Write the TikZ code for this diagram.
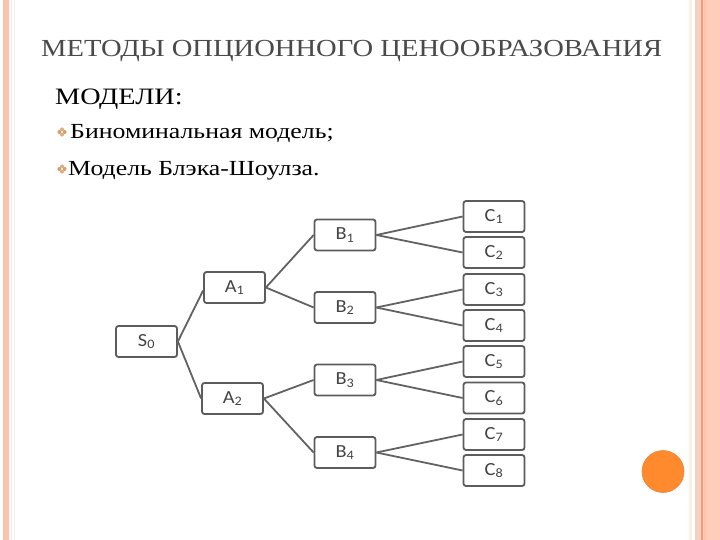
\documentclass[tikz,border=0pt]{standalone}
\usepackage{fontspec}
\setmainfont{Liberation Serif}
\newfontfamily\slidefont{Liberation Serif}[FakeStretch=1.2]
\newfontfamily\titlefont{Liberation Serif}[FakeStretch=1.166]
\newfontfamily\boxfont{Carlito}[FakeStretch=1.1]
\definecolor{salmon}{HTML}{FFC3AA}
\definecolor{salmonB}{HTML}{FFCDB9}
\definecolor{salmonD}{HTML}{EE9C7C}
\definecolor{tanline}{HTML}{EBD2C2}
\definecolor{creamline}{HTML}{FBEEE2}
\definecolor{lavline}{HTML}{ECE6F0}
\definecolor{yelline}{HTML}{F6F1D8}
\definecolor{titlegray}{HTML}{4A4A4A}
\definecolor{boxgray}{HTML}{5C5C5C}
\definecolor{linegray}{HTML}{626262}
\definecolor{txtgray}{HTML}{444444}
\definecolor{dotorange}{HTML}{FF8A2E}
\definecolor{dotedge}{HTML}{E8853A}
\definecolor{petalA}{HTML}{E39A62}
\definecolor{petalB}{HTML}{D8B088}
\begin{document}
\begin{tikzpicture}[x=1pt,y=-1pt,
  box/.style={draw=boxgray, line width=1.8pt, rounded corners=2.5pt, fill=white,
    minimum width=61pt, minimum height=31pt, inner sep=0pt,
    font=\boxfont\fontsize{18.5}{18.5}\selectfont, text=txtgray},
  conn/.style={draw=linegray, line width=1.8pt},
  flower/.pic={
    \fill[petalA] (-2.6,0) circle (2);
    \fill[petalA] (2.6,0) circle (2);
    \fill[petalB] (0,-2.6) circle (2);
    \fill[petalB] (0,2.6) circle (2);
    \fill[white] (0,0) circle (0.9);
  }]
\useasboundingbox (0,0) rectangle (720,540);
% left border stripes
\fill[salmon] (3,0) rectangle (9,540);
\fill[salmonD!60] (3,0) rectangle (3.8,540);
\fill[lavline] (11,0) rectangle (12.3,540);
\fill[yelline] (14,0) rectangle (15.3,540);
% right border stripes
\fill[creamline] (689,0) rectangle (692,540);
\fill[tanline] (695,0) rectangle (697.5,540);
\fill[salmonB] (697.5,0) rectangle (720,540);
\fill[salmonD] (701,0) rectangle (702.5,540);
\fill[salmon] (704,0) rectangle (706,540);
% orange circle
\fill[dotorange, draw=dotedge, line width=0.6pt] (663,471.5) circle (21);
% texts
\node[anchor=base west, inner sep=0pt, text=titlegray, font=\titlefont\fontsize{24.5}{24.5}\selectfont] (title) at (41,57) {МЕТОДЫ ОПЦИОННОГО ЦЕНООБРАЗОВАНИЯ};
\node[anchor=base west, inner sep=0pt, font=\slidefont\fontsize{23.5}{23.5}\selectfont] (models) at (55,105) {МОДЕЛИ:};
\pic at (62,132) {flower};
\node[anchor=base west, inner sep=0pt, font=\slidefont\fontsize{21.5}{21.5}\selectfont] (item1) at (70,139) {Биноминальная модель;};
\pic at (62,169) {flower};
\node[anchor=base west, inner sep=0pt, font=\slidefont\fontsize{21.5}{21.5}\selectfont] (item2) at (68,176) {Модель Блэка-Шоулза.};
% tree nodes
\node[box] (S0) at (146.5,341.5) {S\textsubscript{0}};
\node[box] (A1) at (234.5,287.5) {A\textsubscript{1}};
\node[box] (A2) at (232.5,398.5) {A\textsubscript{2}};
\node[box] (B1) at (345,235) {B\textsubscript{1}};
\node[box] (B2) at (345,307.5) {B\textsubscript{2}};
\node[box] (B3) at (345,380) {B\textsubscript{3}};
\node[box] (B4) at (345,452.5) {B\textsubscript{4}};
\node[box] (C1) at (494,216.5) {C\textsubscript{1}};
\node[box] (C2) at (494,252.5) {C\textsubscript{2}};
\node[box] (C3) at (494,289.5) {C\textsubscript{3}};
\node[box] (C4) at (494,325.5) {C\textsubscript{4}};
\node[box] (C5) at (494,361.5) {C\textsubscript{5}};
\node[box] (C6) at (494,398) {C\textsubscript{6}};
\node[box] (C7) at (494,434.5) {C\textsubscript{7}};
\node[box] (C8) at (494,470.5) {C\textsubscript{8}};
% connectors
\draw[conn] (S0.east) -- ([yshift=-3pt]A1.west);
\draw[conn] (S0.east) -- (A2.west);
\draw[conn] (A1.east) -- (B1.west);
\draw[conn] (A1.east) -- (B2.west);
\draw[conn] (A2.east) -- (B3.west);
\draw[conn] (A2.east) -- (B4.west);
\draw[conn] (B1.east) -- (C1.west);
\draw[conn] (B1.east) -- (C2.west);
\draw[conn] (B2.east) -- (C3.west);
\draw[conn] (B2.east) -- (C4.west);
\draw[conn] (B3.east) -- (C5.west);
\draw[conn] (B3.east) -- (C6.west);
\draw[conn] (B4.east) -- (C7.west);
\draw[conn] (B4.east) -- (C8.west);
\end{tikzpicture}
\end{document}
